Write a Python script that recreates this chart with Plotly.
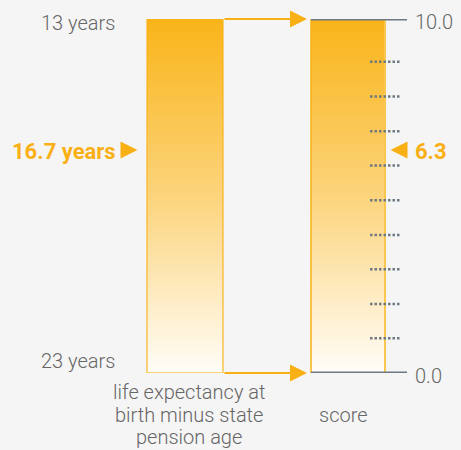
import plotly.graph_objects as go

# ---- data ----
years_top = 13          # best end of left scale (years)
years_bottom = 23       # worst end of left scale (years)
years_value = 16.7      # life expectancy at birth minus state pension age
score_min = 0.0
score_max = 10.0
score_value = 6.3
score_ticks = [0.98, 1.95, 2.93, 3.9, 4.88, 5.86, 6.83, 7.81, 8.79]
left_title_lines = ["life expectancy at", "birth minus state", "pension age"]
right_title = "score"
years_labels = ["13 years", "23 years"]
score_labels = ["10.0", "0.0"]

# ---- style / layout constants ----
ORANGE = "#f9b015"
GRAY_TXT = "#666666"
AXIS_GRAY = "#6e7880"
BG = "#f5f5f5"
FONT = "Roboto, Open Sans, sans-serif"
W, H = 461, 450
LB = (147, 223)   # left bar x extents
RB = (311, 385)   # right bar x extents
grad = [[0, "rgba(255,253,248,1)"], [0.5, "#fcd47c"], [1, "#f9b418"]]

fig = go.Figure()

# left gradient bar (years axis, reversed)
fig.add_trace(go.Scatter(
    x=[LB[0], LB[1], LB[1], LB[0], LB[0]],
    y=[years_bottom, years_bottom, years_top, years_top, years_bottom],
    yaxis="y", mode="lines", fill="toself",
    fillgradient=dict(type="vertical", colorscale=grad),
    line=dict(color="rgba(249,176,21,0.75)", width=1.5),
    hoverinfo="skip", showlegend=False))

# right gradient bar (score axis)
fig.add_trace(go.Scatter(
    x=[RB[0], RB[1], RB[1], RB[0], RB[0]],
    y=[score_min, score_min, score_max, score_max, score_min],
    yaxis="y2", mode="lines", fill="toself",
    fillgradient=dict(type="vertical", colorscale=grad),
    line=dict(color="rgba(0,0,0,0)", width=0),
    hoverinfo="skip", showlegend=False))
# right bar borders
fig.add_trace(go.Scatter(x=[RB[0], RB[0]], y=[score_min, score_max], yaxis="y2",
                         mode="lines", line=dict(color=ORANGE, width=1.5),
                         hoverinfo="skip", showlegend=False))
fig.add_trace(go.Scatter(x=[RB[1], RB[1]], y=[score_min, score_max], yaxis="y2",
                         mode="lines", line=dict(color="#fcc650", width=2),
                         hoverinfo="skip", showlegend=False))

# dotted ticks
tx, ty = [], []
for v in score_ticks:
    tx += [370, 401, None]
    ty += [v, v, None]
fig.add_trace(go.Scatter(x=tx, y=ty, yaxis="y2", mode="lines",
                         line=dict(color=AXIS_GRAY, width=2.5, dash="2.5px,2px"),
                         hoverinfo="skip", showlegend=False))

# gray axis end lines
for v in (score_max, score_min):
    fig.add_trace(go.Scatter(x=[RB[0], 407], y=[v, v], yaxis="y2", mode="lines",
                             line=dict(color=AXIS_GRAY, width=3),
                             hoverinfo="skip", showlegend=False))

# pointers (arrow symbol: tip at the point)
fig.add_trace(go.Scatter(x=[137.5], y=[years_value], yaxis="y", mode="markers",
                         marker=dict(symbol="arrow-right", size=17, color=ORANGE),
                         hoverinfo="skip", showlegend=False))
fig.add_trace(go.Scatter(x=[390.5], y=[score_value], yaxis="y2", mode="markers",
                         marker=dict(symbol="arrow-left", size=17, color=ORANGE),
                         hoverinfo="skip", showlegend=False))

ann = []
# connector arrows
for ys, vs in ((years_top, score_max), (years_bottom, score_min)):
    ann.append(dict(x=RB[0] - 4, y=vs, xref="x", yref="y2",
                    ax=LB[1], ay=vs, axref="x", ayref="y2",
                    showarrow=True, arrowhead=2, arrowsize=1.7, arrowwidth=2,
                    arrowcolor=ORANGE, text=""))

lab_font = dict(family=FONT, size=20, color=GRAY_TXT, weight=300)
ann.append(dict(x=117, y=years_top, xref="x", yref="y", xanchor="right", yanchor="middle",
                yshift=-4, text=years_labels[0], showarrow=False, font=lab_font))
ann.append(dict(x=117, y=years_bottom, xref="x", yref="y", xanchor="right", yanchor="middle",
                yshift=12, text=years_labels[1], showarrow=False, font=lab_font))
ann.append(dict(x=413, y=score_max, xref="x", yref="y2", xanchor="left", yanchor="middle",
                yshift=-3, text=score_labels[0], showarrow=False, font=lab_font))
ann.append(dict(x=413, y=score_min, xref="x", yref="y2", xanchor="left", yanchor="middle",
                yshift=-3, text=score_labels[1], showarrow=False, font=lab_font))

val_font = dict(family=FONT, size=22, color=ORANGE, weight="bold")
ann.append(dict(x=118, y=years_value, xref="x", yref="y", xanchor="right", yanchor="middle",
                yshift=-2, text=f"{years_value} years", showarrow=False, font=val_font))
ann.append(dict(x=413, y=score_value, xref="x", yref="y2", xanchor="left", yanchor="middle",
                yshift=-2, text=f"{score_value}", showarrow=False, font=val_font))

for i, line in enumerate(left_title_lines):
    ann.append(dict(x=189, y=0, xref="x", yref="paper", xanchor="center", yanchor="middle",
                    yshift=-19 - 22.5 * i, text=line, showarrow=False, font=lab_font))
ann.append(dict(x=343, y=0, xref="x", yref="paper", xanchor="center", yanchor="middle",
                yshift=-42, text=right_title, showarrow=False, font=lab_font))

fig.update_layout(
    width=W, height=H,
    margin=dict(l=0, r=0, t=19, b=77),
    paper_bgcolor=BG, plot_bgcolor=BG,
    xaxis=dict(range=[0, W], visible=False, fixedrange=True),
    yaxis=dict(range=[years_bottom, years_top], visible=False, fixedrange=True),
    yaxis2=dict(range=[score_min, score_max], visible=False, overlaying="y", fixedrange=True),
    annotations=ann,
)
fig.write_html(
    "out.html",
    config={"displayModeBar": False},
    post_script="document.body.style.margin='0';document.body.style.background='#f5f5f5';"
                "document.body.style.overflow='hidden';",
)
